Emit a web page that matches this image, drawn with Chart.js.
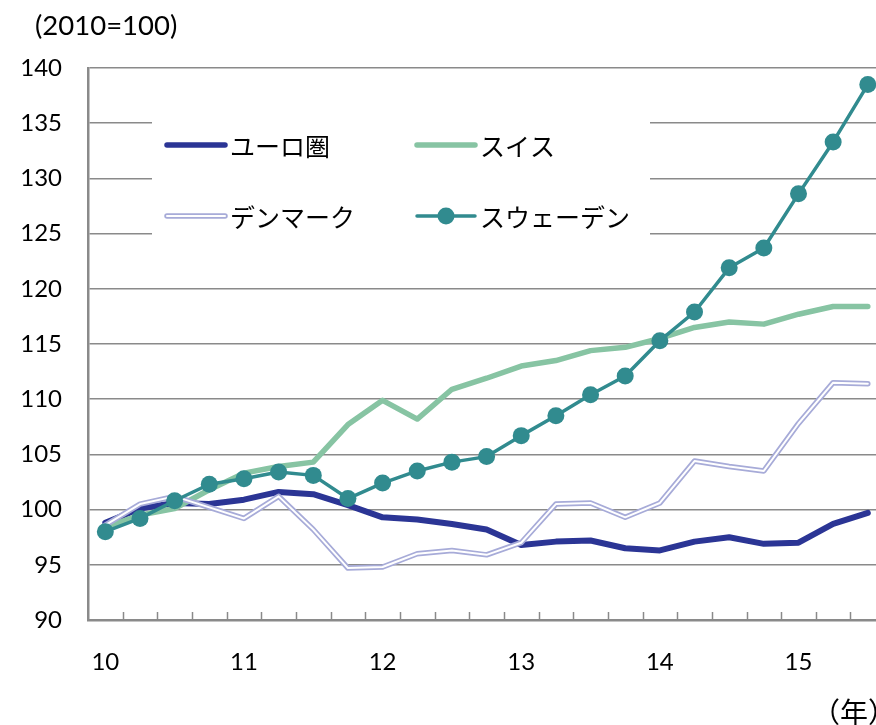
<!DOCTYPE html>
<html>
<head>
<meta charset="utf-8">
<script src="https://cdn.jsdelivr.net/npm/chart.js@4.4.0/dist/chart.umd.min.js"></script>
<style>
  html, body { margin: 0; padding: 0; background: #fff; overflow: hidden; width: 876px; height: 725px; }
  #wrap { position: relative; width: 896px; height: 725px; }
  .note { position: absolute; color: #000; white-space: nowrap; }
  #unit { left: 35px; top: 8px; font-size: 27.5px; font-family: Lato, sans-serif; }
  #year { left: 812px; top: 691px; font-size: 28px; font-family: "Noto Sans CJK JP", sans-serif; }
</style>
</head>
<body>
<div id="wrap">
  <canvas id="chart" width="896" height="725"></canvas>
  <div class="note" id="unit">(2010=100)</div>
  <div class="note" id="year">（年）</div>
</div>
<script>
// quarterly index, 2010Q1 .. 2015Q3
const quarters = [
  '2010Q1', '2010Q2', '2010Q3', '2010Q4',
  '2011Q1', '2011Q2', '2011Q3', '2011Q4',
  '2012Q1', '2012Q2', '2012Q3', '2012Q4',
  '2013Q1', '2013Q2', '2013Q3', '2013Q4',
  '2014Q1', '2014Q2', '2014Q3', '2014Q4',
  '2015Q1', '2015Q2', '2015Q3'
];
const yearLabels = ['10', '11', '12', '13', '14', '15'];

const euro    = [98.8, 100.1, 100.6, 100.5, 100.9, 101.6, 101.4, 100.4, 99.3, 99.1, 98.7, 98.2,
                 96.8, 97.1, 97.2, 96.5, 96.3, 97.1, 97.5, 96.9, 97.0, 98.7, 99.7];
const swiss   = [98.4, 99.5, 100.1, 101.8, 103.3, 103.9, 104.3, 107.7, 109.9, 108.2, 110.9, 111.9,
                 113.0, 113.5, 114.4, 114.7, 115.5, 116.5, 117.0, 116.8, 117.7, 118.4, 118.4];
const denmark = [98.6, 100.5, 101.2, 100.2, 99.2, 101.2, 98.2, 94.7, 94.8, 96.0, 96.3, 95.9,
                 97.0, 100.5, 100.6, 99.3, 100.6, 104.4, 103.9, 103.5, 107.8, 111.5, 111.4];
const sweden  = [98.0, 99.2, 100.8, 102.3, 102.8, 103.4, 103.1, 101.0, 102.4, 103.5, 104.3, 104.8,
                 106.7, 108.5, 110.4, 112.1, 115.3, 117.9, 121.9, 123.7, 128.6, 133.3, 138.5];

const yMin = 90, yMax = 140, yStep = 5;

const cEuro = '#2b3595';
const cSwiss = '#87c4a3';
const cDenmark = '#a7abd8';
const cSweden = '#318b8f';
const cGrid = '#8a8a8a';

const lineBase = { tension: 0, fill: false, borderCapStyle: 'round', borderJoinStyle: 'round', pointRadius: 0, pointHoverRadius: 0 };

// quarter tick marks standing up from the x axis, between the points
const quarterTicks = {
  id: 'quarterTicks',
  afterDatasetsDraw(chart) {
    const x = chart.scales.x, ctx = chart.ctx;
    const bottom = chart.chartArea.bottom;
    ctx.save();
    ctx.strokeStyle = cGrid;
    ctx.lineWidth = 1.5;
    for (let i = 1; i <= quarters.length; i++) {
      const px = Math.round(x.getPixelForValue(i - 0.5)) + 0.5;
      ctx.beginPath();
      ctx.moveTo(px, bottom);
      ctx.lineTo(px, bottom - 8);
      ctx.stroke();
    }
    ctx.restore();
  }
};

// white legend panel in the upper left of the plot
const boxLegend = {
  id: 'boxLegend',
  afterDatasetsDraw(chart) {
    const ctx = chart.ctx;
    ctx.save();
    ctx.fillStyle = '#fff';
    ctx.fillRect(152, 106, 498, 144);
    const items = [
      { label: 'ユーロ圏', x: 167, y: 145, kind: 'euro' },
      { label: 'スイス', x: 417, y: 145, kind: 'swiss' },
      { label: 'デンマーク', x: 167, y: 216, kind: 'denmark' },
      { label: 'スウェーデン', x: 417, y: 216, kind: 'sweden' }
    ];
    ctx.lineCap = 'round';
    items.forEach(it => {
      const x0 = it.x, x1 = it.x + 58, y = it.y;
      const seg = (color, w) => {
        ctx.strokeStyle = color; ctx.lineWidth = w;
        ctx.beginPath(); ctx.moveTo(x0, y); ctx.lineTo(x1, y); ctx.stroke();
      };
      if (it.kind === 'euro') seg(cEuro, 5.5);
      if (it.kind === 'swiss') seg(cSwiss, 5.5);
      if (it.kind === 'denmark') { seg(cDenmark, 5.5); seg('#fff', 2); }
      if (it.kind === 'sweden') {
        seg(cSweden, 3.5);
        ctx.fillStyle = cSweden;
        ctx.beginPath(); ctx.arc((x0 + x1) / 2, y, 8.5, 0, Math.PI * 2); ctx.fill();
      }
      ctx.fillStyle = '#000';
      ctx.font = '25px "Noto Sans CJK JP"';
      ctx.textBaseline = 'middle';
      ctx.fillText(it.label, x1 + 5, y + 1);
    });
    ctx.restore();
  }
};

new Chart(document.getElementById('chart'), {
  type: 'line',
  data: {
    labels: quarters,
    datasets: [
      { ...lineBase, label: 'スウェーデン', data: sweden, borderColor: cSweden, borderWidth: 3.5,
        pointRadius: 8.5, pointBackgroundColor: cSweden, pointBorderWidth: 0 },
      { ...lineBase, label: 'デンマーク', data: denmark, borderColor: '#fff', borderWidth: 2 },
      { ...lineBase, label: 'デンマーク_outer', data: denmark, borderColor: cDenmark, borderWidth: 5.5 },
      { ...lineBase, label: 'スイス', data: swiss, borderColor: cSwiss, borderWidth: 5.5 },
      { ...lineBase, label: 'ユーロ圏', data: euro, borderColor: cEuro, borderWidth: 6 }
    ]
  },
  options: {
    responsive: false,
    animation: false,
    layout: { padding: { top: 68, left: 0, right: 0, bottom: 0 } },
    plugins: { legend: { display: false }, tooltip: { enabled: false } },
    scales: {
      x: {
        offset: true,
        grid: { display: false, drawTicks: false },
        border: { display: true, color: cGrid, width: 2.5 },
        afterFit(scale) { scale.height = 105; },
        ticks: {
          autoSkip: false, maxRotation: 0, padding: 28,
          color: '#000', font: { family: 'Lato', size: 24 },
          callback: (v, i) => (i % 4 === 0 ? yearLabels[i / 4] : '')
        }
      },
      y: {
        min: yMin, max: yMax,
        grid: { color: cGrid, lineWidth: 1.5, drawTicks: false },
        border: { display: true, color: cGrid, width: 2.5 },
        afterFit(scale) { scale.width = 88; },
        ticks: {
          stepSize: yStep, padding: 26,
          color: '#000', font: { family: 'Lato', size: 24 }
        }
      }
    }
  },
  plugins: [quarterTicks, boxLegend]
});
</script>
</body>
</html>
